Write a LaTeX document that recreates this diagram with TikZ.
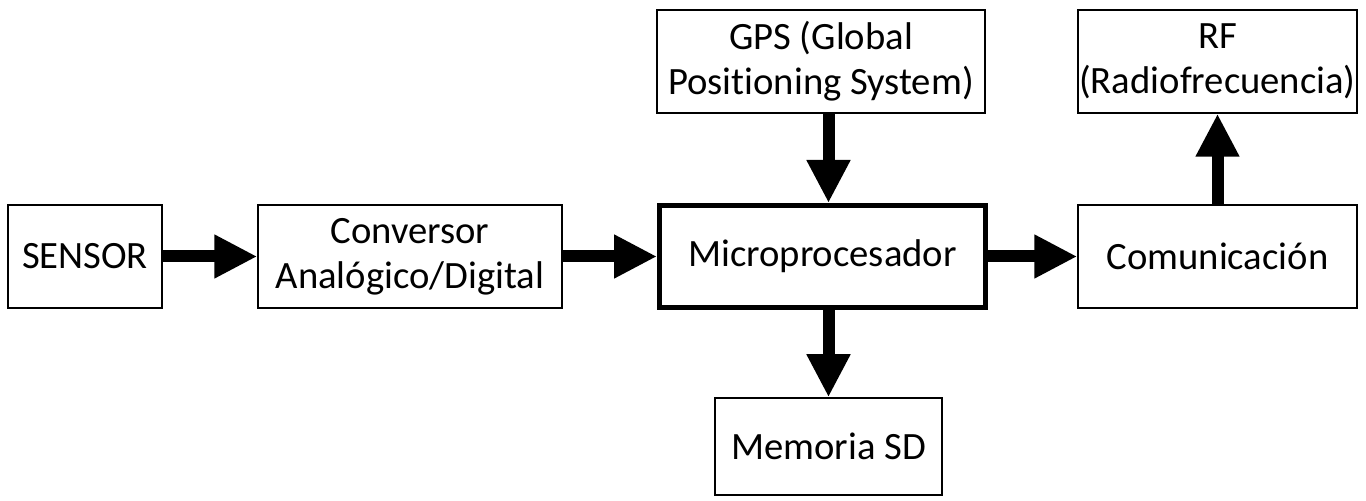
\documentclass[tikz,border=0pt]{standalone}
\usepackage{fontspec}
\setmainfont{Carlito}[Ligatures=NoCommon]
\usetikzlibrary{arrows.meta}

\tikzset{
	bloque/.style={draw, line width=0.03cm, align=center, inner sep=0pt,
		minimum height=2.06cm, font=\fontsize{22}{25.5}\selectfont},
	flecha/.style={line width=0.24cm, -{Triangle[length=0.86cm,width=0.82cm]}}
}

\begin{document}
\begin{tikzpicture}
			%%%%% START %%%%%
			
			\useasboundingbox (0, 0) rectangle (27.32, 10.02);
			
			% fila central
			\node[bloque, minimum width=3.08cm] (sensor) at (1.70, 4.89) {SENSOR};
			\node[bloque, minimum width=6.08cm] (adc) at (8.20, 4.89) {Conversor\\Analógico/Digital};
			\node[bloque, line width=0.1cm, minimum width=6.52cm, minimum height=2.04cm] (micro) at (16.45, 4.89) {Microprocesador};
			\node[bloque, minimum width=5.58cm] (com) at (24.35, 4.89) {Comunicación};
			
			% arriba y abajo
			\node[bloque, minimum width=6.56cm] (gps) at (16.42, 8.79) {GPS (Global\\Positioning System)};
			\node[bloque, minimum width=5.58cm] (rf) at (24.35, 8.79) {RF\\(Radiofrecuencia)};
			\node[bloque, minimum width=4.54cm, minimum height=1.94cm] (mem) at (16.57, 1.09) {Memoria SD};
			
			\draw[flecha] (sensor) -- (adc);
			\draw[flecha] (adc) -- (micro);
			\draw[flecha] (micro) -- (com);
			\draw[flecha] (gps.south -| mem) -- (micro.north -| mem);
			\draw[flecha] (micro.south -| mem) -- (mem.north);
			\draw[flecha] (com.north) -- (rf.south);
			
			%%%%% END %%%%%
\end{tikzpicture}
\end{document}
